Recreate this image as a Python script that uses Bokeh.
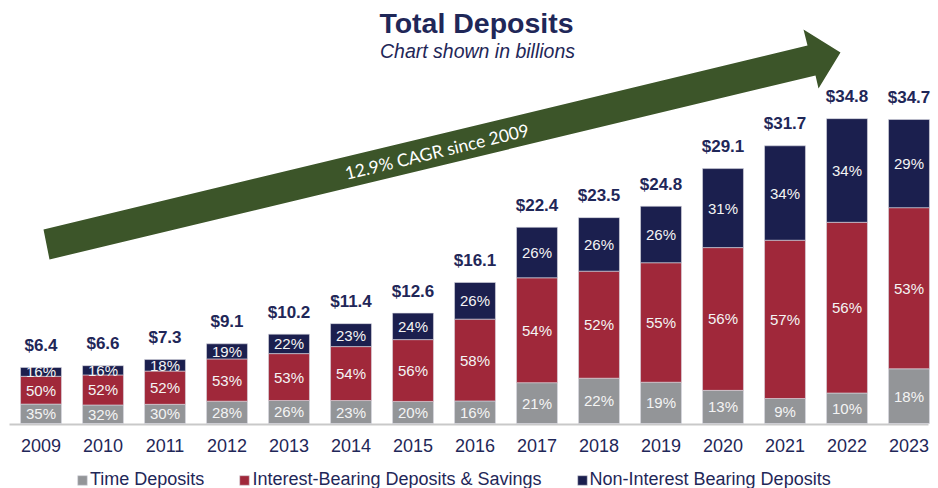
from bokeh.plotting import figure
from bokeh.models import ColumnDataSource, Legend, LegendItem, Range1d
from bokeh.core.properties import value
from bokeh.embed import file_html
from bokeh.resources import INLINE

# ---- data -------------------------------------------------------------
years = ["2009", "2010", "2011", "2012", "2013", "2014", "2015", "2016",
         "2017", "2018", "2019", "2020", "2021", "2022", "2023"]
totals = [6.4, 6.6, 7.3, 9.1, 10.2, 11.4, 12.6, 16.1,
          22.4, 23.5, 24.8, 29.1, 31.7, 34.8, 34.7]
time_pct = [35, 32, 30, 28, 26, 23, 20, 16, 21, 22, 19, 13, 9, 10, 18]
ib_pct = [50, 52, 52, 53, 53, 54, 56, 58, 54, 52, 55, 56, 57, 56, 53]
nib_pct = [16, 16, 18, 19, 22, 23, 24, 26, 26, 26, 26, 31, 34, 34, 29]
series_names = ["Time Deposits", "Interest-Bearing Deposits & Savings",
                "Non-Interest Bearing Deposits"]
title_text = "Total Deposits"
subtitle_text = "Chart shown in billions"
cagr_text = "12.9% CAGR since 2009"

# ---- style ------------------------------------------------------------
NAVY = "#1b1f4e"
RED = "#a0283a"
GRAY = "#939598"
GREEN = "#3c5529"
TEXT = "#1f2758"
FONT = "Liberation Sans"

W, H = 938, 488
PX_X, X0 = 62.0, 40.5      # px per category, canvas px of first category
PX_Y, Y0 = 8.76, 423.0     # px per billion, canvas px of zero line


def dx(px):
    return (px - X0) / PX_X


def dy(py):
    return (Y0 - py) / PX_Y


# ---- derived columns --------------------------------------------------
idx = list(range(len(years)))
t_v, i_v, n_v = [], [], []
t_c, i_c, n_c = [], [], []
for tot, a, b, c in zip(totals, time_pct, ib_pct, nib_pct):
    s = a + b + c
    ta, tb, tc = tot * a / s, tot * b / s, tot * c / s
    t_v.append(ta); i_v.append(tb); n_v.append(tc)
    t_c.append(ta / 2); i_c.append(ta + tb / 2); n_c.append(ta + tb + tc / 2)

src = ColumnDataSource(dict(
    x=idx, year=years, total=totals,
    total_lbl=[f"${v:.1f}" for v in totals],
    t=t_v, i=i_v, n=n_v,
    tc=t_c, ic=i_c, nc=n_c,
    tl=[f"{v}%" for v in time_pct],
    il=[f"{v}%" for v in ib_pct],
    nl=[f"{v}%" for v in nib_pct],
))

p = figure(width=W, height=H,
           x_range=Range1d(dx(0), dx(W)), y_range=Range1d(dy(H), dy(0)),
           output_backend="svg", toolbar_location=None,
           x_axis_location=None, y_axis_location=None,
           min_border=0, outline_line_color=None,
           background_fill_color="white", border_fill_color="white")
p.grid.visible = False

# ---- arrow (decoration) ----------------------------------------------
arrow_px = [(49, 259), (43, 229), (807, 45), (803, 29), (840, 52),
            (818, 88), (815, 75)]
p.patch([dx(a) for a, b in arrow_px], [dy(b) for a, b in arrow_px],
        color=GREEN, line_width=0)
p.text(x=[dx(436.5)], y=[dy(151)], text=[cagr_text], angle=0.236,
       text_align="center", text_baseline="middle",
       text_font=value("Lato"), text_font_size="17.5px", text_color="white")

# ---- axis line ----------------------------------------------------------
p.segment(x0=[dx(9)], y0=[dy(424)], x1=[dx(928)], y1=[dy(424)],
          line_color="#c9c9c9", line_width=2)

# ---- bars ---------------------------------------------------------------
rs = p.vbar_stack(["t", "i", "n"], x="x", width=0.66, source=src,
                  fill_color=[GRAY, RED, NAVY],
                  line_color="#d8d8e0", line_width=0.6)

for ycol, lcol in (("tc", "tl"), ("ic", "il"), ("nc", "nl")):
    p.text(x="x", y=ycol, text=lcol, source=src, text_align="center",
           text_baseline="middle", text_font=value(FONT),
           text_font_size="15px", text_color="#f4f4f4")

p.text(x="x", y="total", text="total_lbl", source=src, y_offset=-22,
       text_align="center", text_baseline="middle",
       text_font=value(FONT), text_font_style="bold",
       text_font_size="17px", text_color=TEXT)

p.text(x="x", y=0, text="year", source=src, y_offset=22,
       text_align="center", text_baseline="middle",
       text_font=value(FONT), text_font_size="18px", text_color=TEXT)

# ---- titles -------------------------------------------------------------
p.text(x=[dx(476)], y=[dy(22)], text=[title_text], text_align="center",
       text_baseline="middle", text_font=value(FONT),
       text_font_style="bold", text_font_size="28.5px", text_color=TEXT)
p.text(x=[dx(477)], y=[dy(50)], text=[subtitle_text], text_align="center",
       text_baseline="middle", text_font=value(FONT),
       text_font_style="italic", text_font_size="19.5px", text_color=TEXT)

# ---- legend -------------------------------------------------------------
legend = Legend(items=[LegendItem(label=n, renderers=[r])
                       for n, r in zip(series_names, rs)],
                orientation="horizontal", location=(76, -2),
                glyph_width=12, glyph_height=12, label_standoff=2,
                spacing=34, padding=0, margin=0, label_height=18,
                border_line_color=None, background_fill_alpha=0,
                label_text_font=FONT, label_text_font_size="18px",
                label_text_color=TEXT)
p.add_layout(legend)

open("out.html", "w").write(file_html(p, INLINE))
